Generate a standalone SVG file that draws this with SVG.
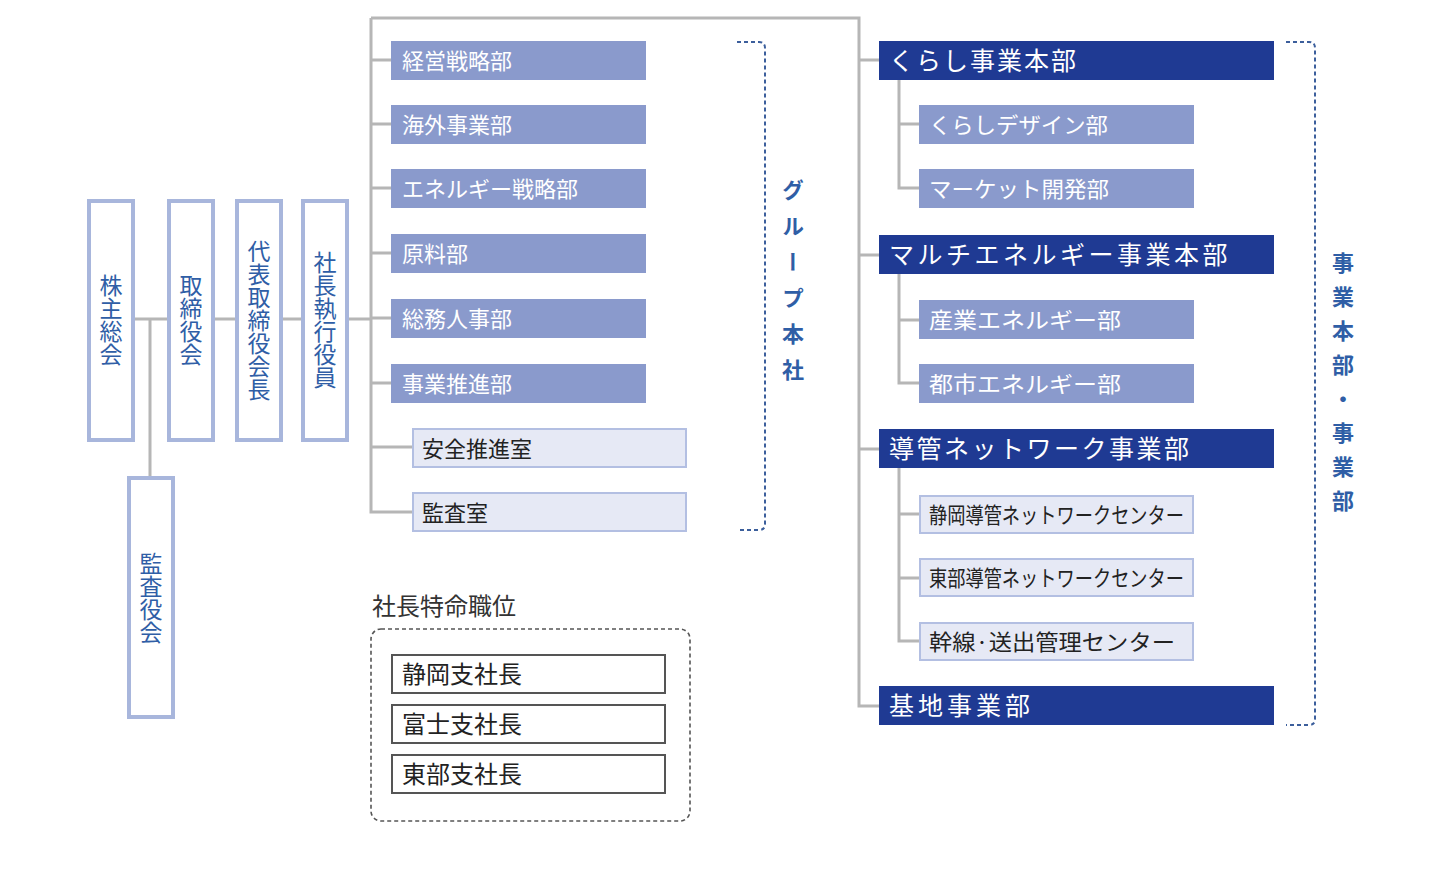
<svg xmlns="http://www.w3.org/2000/svg" width="1443" height="883" viewBox="0 0 1443 883">
<style>
text{font-family:"Noto Sans CJK JP","Noto Sans",sans-serif;}
.vbox{fill:#fff;stroke:#a8b6dc;stroke-width:4;}
.vt{font-size:23px;fill:#2f5ea6;writing-mode:vertical-rl;text-anchor:middle;}
.mid{fill:#8a9acc;}
.midt{font-size:22px;fill:#fff;dominant-baseline:central;}
.lt{fill:#e6e9f5;stroke:#b3bfe2;stroke-width:2;}
.ltt{font-size:22px;fill:#222;dominant-baseline:central;}
.dk{fill:#1f3a93;}
.dkt{font-size:25px;fill:#fff;dominant-baseline:central;letter-spacing:3.5px;}
.con{fill:none;stroke:#b6b6b6;stroke-width:3;}
.br{fill:none;stroke:#3c5f9c;stroke-width:2;stroke-dasharray:4 3;}
.bl{font-size:22px;font-weight:bold;fill:#2f5ea6;writing-mode:vertical-rl;text-anchor:middle;}
.sp{fill:#fff;stroke:#555;stroke-width:2;}
.spt{font-size:24px;fill:#222;dominant-baseline:central;}
</style>
<g id="connectors">
<path class="con" d="M133 319H302M150 319V477M347 319H371"/>
<path class="con" d="M371 18V512H412M371 18H859V706H879"/>
<path class="con" d="M371 60H391M371 124H391M371 188H391M371 253H391M371 318H391M371 383H391M371 447H412"/>
<path class="con" d="M859 60H879M859 255H879M859 449H879"/>
<path class="con" d="M899 80V188H919M899 124H919"/>
<path class="con" d="M899 274V383H919M899 320H919"/>
<path class="con" d="M899 468V641H919M899 514H919M899 578H919"/>
</g>
<g id="n-kabunushi"><rect class="vbox" x="89" y="201" width="44" height="239"/><text class="vt" x="111" y="320">株主総会</text></g>
<g id="n-torishimari"><rect class="vbox" x="169" y="201" width="44" height="239"/><text class="vt" x="191" y="320">取締役会</text></g>
<g id="n-kaicho"><rect class="vbox" x="237" y="201" width="44" height="239"/><text class="vt" x="259" y="320">代表取締役会長</text></g>
<g id="n-shacho"><rect class="vbox" x="303" y="201" width="44" height="239"/><text class="vt" x="325" y="320">社長執行役員</text></g>
<g id="n-kansayaku"><rect class="vbox" x="129" y="478" width="44" height="239"/><text class="vt" x="151" y="598">監査役会</text></g>

<g id="n-keiei"><rect class="mid" x="391" y="41" width="255" height="39"/><text class="midt" x="402" y="59">経営戦略部</text></g>
<g id="n-kaigai"><rect class="mid" x="391" y="105" width="255" height="39"/><text class="midt" x="402" y="123">海外事業部</text></g>
<g id="n-energy"><rect class="mid" x="391" y="169" width="255" height="39"/><text class="midt" x="402" y="187">エネルギー戦略部</text></g>
<g id="n-genryo"><rect class="mid" x="391" y="234" width="255" height="39"/><text class="midt" x="402" y="252">原料部</text></g>
<g id="n-somu"><rect class="mid" x="391" y="299" width="255" height="39"/><text class="midt" x="402" y="317">総務人事部</text></g>
<g id="n-suishin"><rect class="mid" x="391" y="364" width="255" height="39"/><text class="midt" x="402" y="382">事業推進部</text></g>
<g id="n-anzen"><rect class="lt" x="413" y="429" width="273" height="38"/><text class="ltt" x="422" y="446.5">安全推進室</text></g>
<g id="n-kansa"><rect class="lt" x="413" y="493" width="273" height="38"/><text class="ltt" x="422" y="510.5">監査室</text></g>

<g id="b-group"><path class="br" d="M737 42H759Q765 42 765 48V524Q765 530 759 530H737"/><text class="bl" x="793" y="287" style="letter-spacing:14px">グループ本社</text></g>

<g id="n-kurashi"><rect class="dk" x="879" y="41" width="395" height="39"/><text class="dkt" x="889" y="59" style="letter-spacing:2px">くらし事業本部</text></g>
<g id="n-design"><rect class="mid" x="919" y="105" width="275" height="39"/><text class="midt" x="929" y="123" textLength="179" lengthAdjust="spacingAndGlyphs">くらしデザイン部</text></g>
<g id="n-market"><rect class="mid" x="919" y="169" width="275" height="39"/><text class="midt" x="929" y="187" textLength="180" lengthAdjust="spacingAndGlyphs">マーケット開発部</text></g>
<g id="n-multi"><rect class="dk" x="879" y="235" width="395" height="39"/><text class="dkt" x="889" y="253">マルチエネルギー事業本部</text></g>
<g id="n-sangyo"><rect class="mid" x="919" y="300" width="275" height="39"/><text class="midt" x="929" y="318" textLength="192" lengthAdjust="spacingAndGlyphs">産業エネルギー部</text></g>
<g id="n-toshi"><rect class="mid" x="919" y="364" width="275" height="39"/><text class="midt" x="929" y="382" textLength="192" lengthAdjust="spacingAndGlyphs">都市エネルギー部</text></g>
<g id="n-dokan"><rect class="dk" x="879" y="429" width="395" height="39"/><text class="dkt" x="889" y="447" style="letter-spacing:2.5px">導管ネットワーク事業部</text></g>
<g id="n-shizuoka-nw"><rect class="lt" x="920" y="496" width="273" height="37"/><text class="ltt" x="929" y="513" textLength="255" lengthAdjust="spacingAndGlyphs">静岡導管ネットワークセンター</text></g>
<g id="n-tobu-nw"><rect class="lt" x="920" y="559" width="273" height="37"/><text class="ltt" x="929" y="576" textLength="255" lengthAdjust="spacingAndGlyphs">東部導管ネットワークセンター</text></g>
<g id="n-kansen"><rect class="lt" x="920" y="623" width="273" height="37"/><text class="ltt" x="929" y="640" textLength="246" lengthAdjust="spacingAndGlyphs">幹線·送出管理センター</text></g>
<g id="n-kichi"><rect class="dk" x="879" y="686" width="395" height="39"/><text class="dkt" x="889" y="704" style="letter-spacing:4px">基地事業部</text></g>

<g id="b-jigyo"><path class="br" d="M1286 42H1309Q1315 42 1315 48V719Q1315 725 1309 725H1286"/><text class="bl" x="1343" y="388" style="letter-spacing:12px">事業本部・事業部</text></g>

<g id="g-tokumei">
<text x="372" y="604.5" style="font-size:24px;fill:#333;dominant-baseline:central">社長特命職位</text>
<rect x="371" y="629" width="319" height="192" rx="10" fill="none" stroke="#555" stroke-width="1.6" stroke-dasharray="4 3"/>
</g>
<g id="n-shizuoka"><rect class="sp" x="392" y="655" width="273" height="38"/><text class="spt" x="402" y="672.5">静岡支社長</text></g>
<g id="n-fuji"><rect class="sp" x="392" y="705" width="273" height="38"/><text class="spt" x="402" y="722.5">富士支社長</text></g>
<g id="n-tobu"><rect class="sp" x="392" y="755" width="273" height="38"/><text class="spt" x="402" y="772.5">東部支社長</text></g>
</svg>
